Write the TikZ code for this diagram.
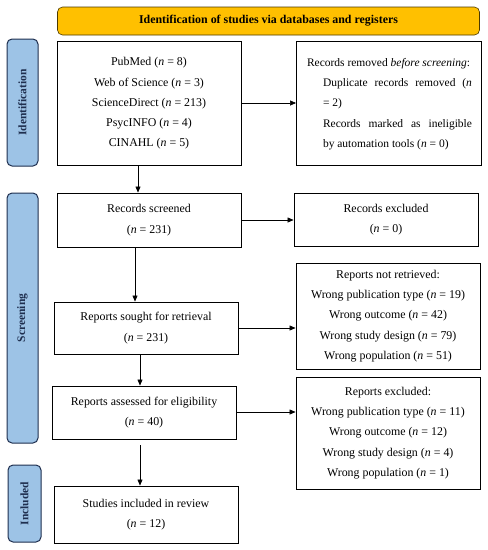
\documentclass[tikz,border=0pt]{standalone}
\usepackage{fontspec}
\setmainfont{Liberation Serif}
\usetikzlibrary{arrows.meta}
\definecolor{hdr}{HTML}{FFC000}
\definecolor{side}{HTML}{9DC3E6}
\definecolor{navy}{HTML}{1F2F4F}
\begin{document}
\begin{tikzpicture}[x=1pt,y=-1pt,
  box/.style={draw=black,line width=0.9pt,fill=white,inner sep=0pt,align=center,
    font=\fontsize{11.9}{20.3}\selectfont},
  sidebox/.style={draw=navy,line width=1pt,fill=side,rounded corners=5pt,inner sep=0pt},
  sidetext/.style={rotate=90,font=\bfseries\fontsize{11.5}{12}\selectfont,text=navy},
  arr/.style={-{Triangle[length=6pt,width=5pt]},line width=0.6pt,black}]
\useasboundingbox (0,0) rectangle (488,550);
% header
\node[draw=black!70!hdr,line width=0.6pt,fill=hdr,rounded corners=5pt,minimum width=422pt,minimum height=28pt,
  font=\bfseries\fontsize{11.9}{12}\selectfont] (hdr) at (268.5,21) {Identification of studies via databases and registers};
% side labels
\node[sidebox,minimum width=31pt,minimum height=127pt] (sid) at (22.5,102.5) {};
\node[sidetext] (sidt) at (sid.center) {Identification};
\node[sidebox,minimum width=31pt,minimum height=250pt] (ssc) at (22.5,318) {};
\node[sidetext] (ssct) at (ssc.center) {Screening};
\node[sidebox,minimum width=33pt,minimum height=77pt] (sin) at (24.5,503.5) {};
\node[sidetext] (sint) at (sin.center) {Included};
% boxes
\node[box,minimum width=184pt,minimum height=124pt] (db) at (149,103.5)
  {PubMed (\textit{n} = 8)\\Web of Science (\textit{n} = 3)\\ScienceDirect (\textit{n} = 213)\\PsycINFO (\textit{n} = 4)\\CINAHL (\textit{n} = 5)};
\node[box,minimum width=185pt,minimum height=124pt] (rem) at (389,103.5) {};
\node[font=\fontsize{11.5}{20.3}\selectfont,align=left,inner sep=0pt] (remt) at (389.5,104)
  {Records removed \textit{before screening}:\\
   \hspace*{16pt}\makebox[149pt][s]{Duplicate records removed (\textit{n}}\\
   \hspace*{16pt}= 2)\\
   \hspace*{16pt}\makebox[149pt][s]{Records marked as ineligible}\\
   \hspace*{16pt}by automation tools (\textit{n} = 0)};
\node[box,minimum width=184pt,minimum height=54pt] (scr) at (149,220) {Records screened\\(\textit{n} = 231)};
\node[box,minimum width=184pt,minimum height=53pt] (exc) at (386,219.5) {Records excluded\\(\textit{n} = 0)};
\node[box,minimum width=184pt,minimum height=52pt] (sou) at (146,328) {Reports sought for retrieval\\(\textit{n} = 231)};
\node[box,minimum width=184pt,minimum height=106pt] (nr) at (388,316)
  {Reports not retrieved:\\Wrong publication type (\textit{n} = 19)\\Wrong outcome (\textit{n} = 42)\\Wrong study design (\textit{n} = 79)\\Wrong population (\textit{n} = 51)};
\node[box,minimum width=184pt,minimum height=53pt] (ass) at (144,412.5) {Reports assessed for eligibility\\(\textit{n} = 40)};
\node[box,minimum width=184pt,minimum height=112pt] (rex) at (388,433)
  {Reports excluded:\\Wrong publication type (\textit{n} = 11)\\Wrong outcome (\textit{n} = 12)\\Wrong study design (\textit{n} = 4)\\Wrong population (\textit{n} = 1)};
\node[box,minimum width=184pt,minimum height=57pt] (inc) at (146,514.5) {Studies included in review\\(\textit{n} = 12)};
% arrows
\draw[arr] (db.east |- 0,103) -- (rem.west |- 0,103);
\draw[arr] (db.south -| 138,0) -- (scr.north -| 138,0);
\draw[arr] (scr.east |- 0,220) -- (exc.west |- 0,220);
\draw[arr] (scr.south -| 135,0) -- (sou.north -| 135,0);
\draw[arr] (sou.east |- 0,328) -- (nr.west |- 0,328);
\draw[arr] (sou.south -| 140,0) -- (ass.north -| 140,0);
\draw[arr] (ass.east |- 0,412) -- (rex.west |- 0,412);
\coordinate (incstart) at (140,445);
\draw[arr] (incstart) -- (inc.north -| incstart);
\end{tikzpicture}
\end{document}
